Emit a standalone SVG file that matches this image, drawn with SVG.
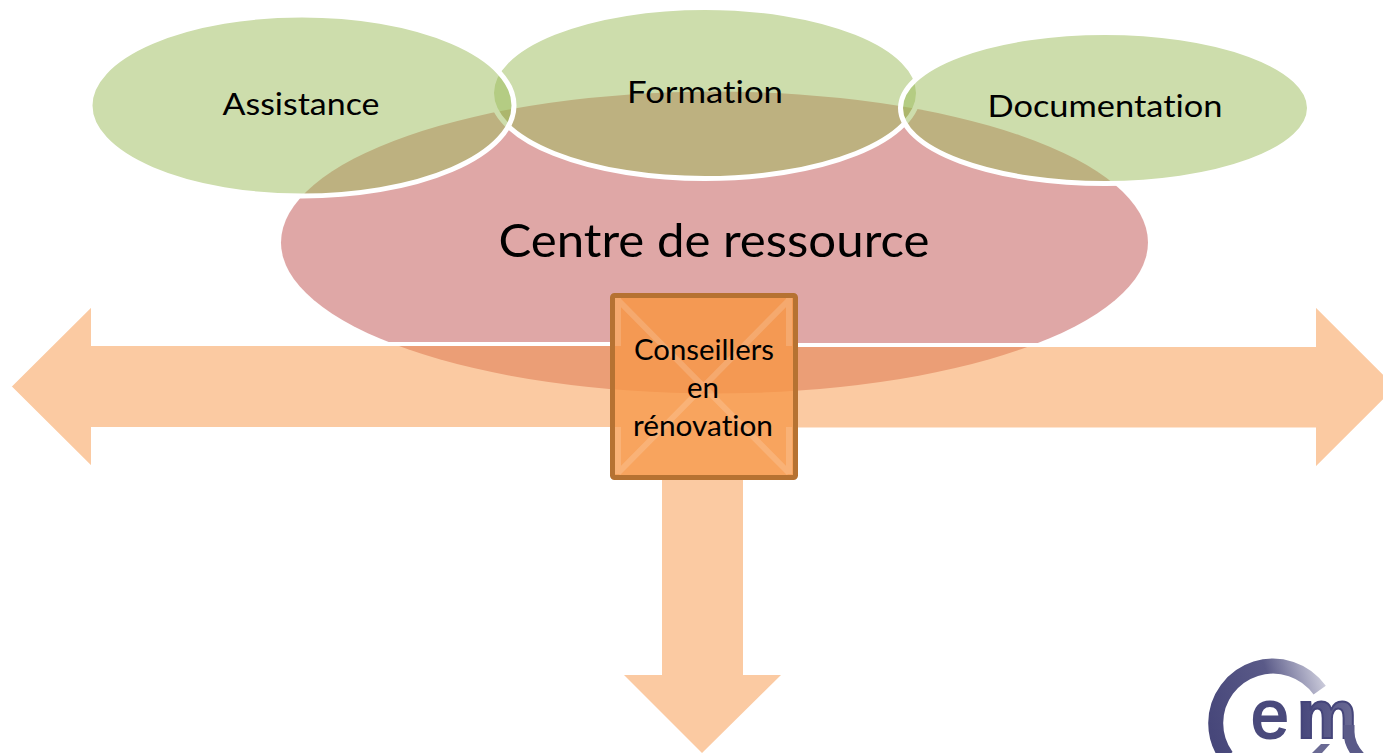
<svg xmlns="http://www.w3.org/2000/svg" width="1383" height="753" viewBox="0 0 1383 753">
<style>
text{font-family:Lato,"Liberation Sans",sans-serif;fill:#000;text-anchor:middle;font-variant-ligatures:none}
.sat{fill:#9BBB59;fill-opacity:.5;stroke:#fff;stroke-width:5}
.arr{fill:#F79646;fill-opacity:.5;stroke:#fff;stroke-width:4}
.bev{fill:none;stroke:#fff;stroke-opacity:.16;stroke-width:6}
.lbl{font-size:31px}
.logo{font-family:"Liberation Sans",sans-serif}
</style>
<defs>
<linearGradient id="ring" gradientUnits="userSpaceOnUse" x1="1208" y1="720" x2="1330" y2="680"><stop offset="0" stop-color="#47477a"/><stop offset=".55" stop-color="#5a5a88"/><stop offset="1" stop-color="#d8d8e4"/></linearGradient>
<linearGradient id="mg" x1="0" y1="0" x2="1" y2="0"><stop offset="0" stop-color="#45457a"/><stop offset="1" stop-color="#6c6c96"/></linearGradient>
</defs>
<rect width="1383" height="753" fill="#fff"/>
<g id="centre"><ellipse cx="714.500" cy="242.500" rx="433.500" ry="151" fill="#C0504D" fill-opacity=".5"/></g>
<g id="connectors">
<path class="arr" d="M612 344H93V303L9 386.500L93 470V429H612Z"/>
<path class="arr" d="M796 345H1314V303L1398 387L1314 471V429.500H796Z"/>
<path d="M662 478H743V675H781L702 753L624 675H662Z" fill="#F79646" fill-opacity=".5"/>
</g>
<g id="formation"><ellipse class="sat" cx="705" cy="93" rx="213.500" ry="85.500"/><text class="lbl" x="705" y="103" textLength="156" lengthAdjust="spacingAndGlyphs">Formation</text></g>
<g id="assistance"><ellipse class="sat" cx="302" cy="105.500" rx="212" ry="90.500"/><text class="lbl" x="301" y="115" textLength="157" lengthAdjust="spacingAndGlyphs">Assistance</text></g>
<g id="documentation"><ellipse class="sat" cx="1105" cy="108" rx="204.500" ry="75.500"/><text class="lbl" x="1105" y="117" textLength="235" lengthAdjust="spacingAndGlyphs">Documentation</text></g>
<text x="714" y="257" font-size="47" textLength="431" lengthAdjust="spacingAndGlyphs">Centre de ressource</text>
<g id="conseillers">
<rect x="612.500" y="295.500" width="183" height="182" rx="2" fill="#F79646" fill-opacity=".87" stroke="#B67232" stroke-width="5"/>
<path class="bev" d="M618 298V346M618 427V474M789 298V346M789 427V474M618 300L789 473M789 300L618 473"/>
<text x="704" y="360" font-size="28" textLength="140" lengthAdjust="spacingAndGlyphs">Conseillers</text>
<text x="703" y="398" font-size="28" textLength="32" lengthAdjust="spacingAndGlyphs">en</text>
<text x="703" y="436" font-size="28" textLength="140" lengthAdjust="spacingAndGlyphs">rénovation</text>
</g>
<g id="logo">
<path d="M1319.700 690.200A57.300 57.300 0 0 0 1215.700 723A57.300 57.300 0 0 0 1226.500 756.500" fill="none" stroke="url(#ring)" stroke-width="15"/>
<text class="logo" x="1270" y="738" font-size="68" stroke="#4a4a7c" stroke-width="2" style="fill:#4a4a7c">e</text>
<text class="logo" x="1327" y="738" font-size="68" font-weight="700" textLength="60" lengthAdjust="spacingAndGlyphs" stroke="#45457a" stroke-width="2" style="fill:url(#mg)">m</text>
<path d="M1349 725V732Q1349 745 1360 757" fill="none" stroke="#5a5a88" stroke-width="11"/>
<path d="M1312 753L1321 744H1330L1322 753Z" fill="#6a6a94"/>
</g>
</svg>
